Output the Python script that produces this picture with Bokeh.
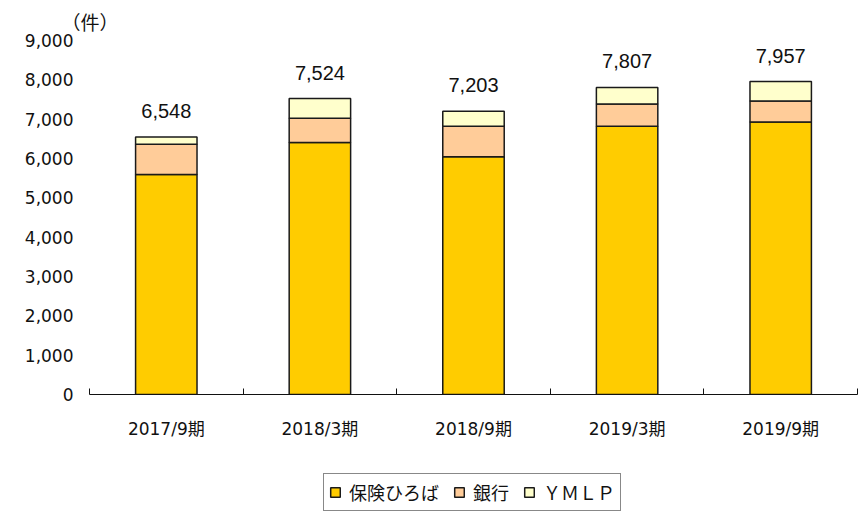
from bokeh.plotting import figure
from bokeh.layouts import column
from bokeh.models import ColumnDataSource, Range1d, FixedTicker, Legend, LegendItem, NumeralTickFormatter, Title
from bokeh.core.properties import value
from bokeh.embed import file_html
from bokeh.resources import INLINE

periods = ["2017/9期", "2018/3期", "2018/9期", "2019/3期", "2019/9期"]
hoken_hiroba = [5596, 6407, 6042, 6821, 6930]
ginko = [768, 616, 779, 565, 532]
ymlp = [184, 501, 382, 421, 495]
series_names = ["保険ひろば", "銀行", "ＹＭＬＰ"]
colors = ["#FFCC00", "#FFCC99", "#FFFFCC"]
y_ticks = [0, 1000, 2000, 3000, 4000, 5000, 6000, 7000, 8000, 9000]

xs = [i + 0.5 for i in range(len(periods))]
totals = [a + b + c for a, b, c in zip(hoken_hiroba, ginko, ymlp)]
source = ColumnDataSource(dict(
    x=xs, hoken=hoken_hiroba, ginko=ginko, ymlp=ymlp,
    total=totals, label=[f"{t:,}" for t in totals],
))

p = figure(width=860, height=460, output_backend="svg", toolbar_location=None,
           x_range=Range1d(0, 5), y_range=Range1d(0, 9000),
           min_border_left=89, min_border_right=3, min_border_top=39, min_border_bottom=66)
p.outline_line_color = None
p.xgrid.visible = False
p.ygrid.visible = False

renderers = p.vbar_stack(["hoken", "ginko", "ymlp"], x="x", width=0.4, source=source,
                         fill_color=colors, line_color="#1a1a1a", line_width=1.5)

p.text(x="x", y="total", text="label", source=source, y_offset=-26,
       text_align="center", text_baseline="alphabetic",
       text_font=value("Liberation Sans"), text_font_size="20px", text_color="#111111")

# y axis
p.yaxis.ticker = FixedTicker(ticks=y_ticks)
p.yaxis.formatter = NumeralTickFormatter(format="0,0")
p.yaxis.axis_line_color = None
p.yaxis.major_tick_line_color = None
p.yaxis.minor_tick_line_color = None
p.yaxis.major_tick_out = 0
p.yaxis.major_tick_in = 0
p.yaxis.major_label_standoff = 16
p.yaxis.major_label_text_font = "DejaVu Sans"
p.yaxis.major_label_text_font_size = "17px"
p.yaxis.major_label_text_color = "#111111"

# x axis
p.xaxis.ticker = FixedTicker(ticks=xs, minor_ticks=[0, 1, 2, 3, 4, 5])
p.xaxis.major_label_overrides = {x: lab for x, lab in zip(xs, periods)}
p.xaxis.major_tick_in = 0
p.xaxis.major_tick_out = 0
p.xaxis.minor_tick_in = 6
p.xaxis.minor_tick_out = 0
p.xaxis.minor_tick_line_color = "#111111"
p.xaxis.axis_line_color = "#111111"
p.xaxis.axis_line_width = 1.2
p.xaxis.major_label_standoff = 24
p.xaxis.major_label_text_font = "DejaVu Sans, Noto Sans CJK JP"
p.xaxis.major_label_text_font_size = "17px"
p.xaxis.major_label_text_color = "#111111"

unit = Title(text="（件）", align="left", offset=-28, standoff=11,
             text_font="Noto Sans CJK JP", text_font_size="19px",
             text_font_style="normal", text_color="#111111")
p.add_layout(unit, "above")

# legend-only strip below the chart; its bar renderers are hidden, only their styles feed the legend
lg = figure(width=860, height=52, output_backend="svg", toolbar_location=None,
            x_range=Range1d(10, 15), y_range=Range1d(0, 10000),
            min_border_left=0, min_border_right=0, min_border_top=0, min_border_bottom=0)
lg.axis.visible = False
lg.grid.visible = False
lg.outline_line_color = None
lg_renderers = lg.vbar_stack(["hoken", "ginko", "ymlp"], x="x", width=0.4, source=source,
                             fill_color=colors, line_color="#1a1a1a", line_width=1.5)
for r in lg_renderers:
    r.visible = False

legend = Legend(items=[LegendItem(label=n, renderers=[r]) for n, r in zip(series_names, lg_renderers)],
                location=(234, 1), orientation="horizontal")
legend.border_line_color = "#111111"
legend.border_line_width = 1.2
legend.label_text_font = "Noto Sans CJK JP"
legend.label_text_font_size = "18px"
legend.label_text_color = "#111111"
legend.glyph_width = 12
legend.glyph_height = 12
legend.label_standoff = 8
legend.spacing = 14
legend.padding = 5
legend.margin = 0
legend.label_height = 21
lg.add_layout(legend, "center")

layout = column(p, lg, spacing=0)
open("out.html", "w").write(file_html(layout, INLINE))
